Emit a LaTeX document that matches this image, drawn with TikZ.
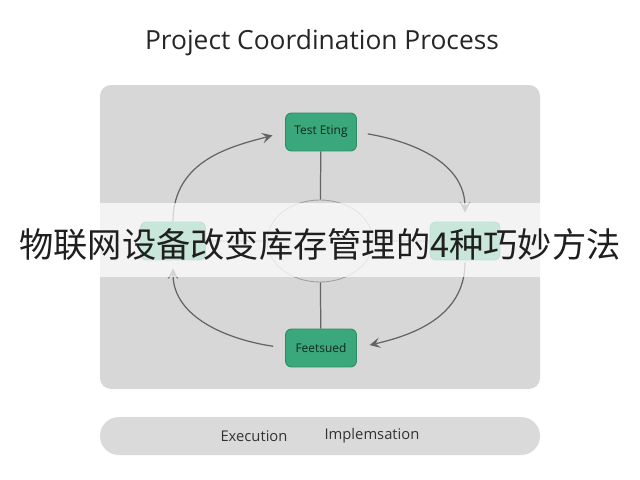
\documentclass[tikz,border=0pt]{standalone}
\usepackage{fontspec}
\setmainfont{Open Sans}
\newfontfamily\cjk{Noto Sans CJK SC}
\usetikzlibrary{arrows.meta, shapes.geometric}
\definecolor{panelbg}{RGB}{215,215,215}
\definecolor{pillbg}{RGB}{218,218,218}
\definecolor{stepgreen}{RGB}{58,168,122}
\definecolor{stepedge}{RGB}{44,140,100}
\definecolor{steptext}{RGB}{18,40,30}
\definecolor{linegray}{RGB}{100,100,100}

\begin{document}
\begin{tikzpicture}[
  x=0.02cm, y=-0.02cm,
  stepbox/.style={rectangle, rounded corners=0.12cm, minimum width=1.42cm, minimum height=0.76cm, draw=stepedge, line width=0.5pt, fill=stepgreen, text=steptext, font=\fontsize{6.8}{8}\selectfont},
  hubnode/.style={ellipse, minimum width=2.12cm, minimum height=1.64cm, draw=gray!75, line width=0.5pt, inner sep=0pt},
  cyc/.style={-{Stealth[length=6pt, width=6pt, inset=2.5pt]}, line width=0.7pt, linegray},
  link/.style={line width=0.7pt, linegray},
  lbl/.style={font=\fontsize{8.4}{10}\selectfont, text=black!80}
]
\useasboundingbox (0,0) rectangle (640,480);

% Title
\node[font=\fontsize{15}{18}\selectfont, text=black!85] (title) at (322,43) {Project Coordination Process};

% Panel and bottom bar
\fill[panelbg, rounded corners=0.22cm] (100,85) rectangle (540,389);
\fill[pillbg, rounded corners=0.38cm] (100,417) rectangle (540,455);
\node[lbl] (exec) at (254,436) {Execution};
\node[lbl] (impl) at (372,436) {Implemsation};

% Cycle nodes
\node[stepbox] (tnode) at (321,132) {Test Eting};
\node[stepbox] (bnode) at (321,348) {Feetsued};
\node[stepbox, minimum width=1.3cm] (lnode) at (173,241) {};
\node[stepbox, minimum width=1.4cm] (rnode) at (465,241) {};
\node[hubnode] (hub) at (320,241) {};

% Spokes
\draw[link] (tnode) -- (hub);
\draw[link] (hub) -- (bnode);
\draw[link, gray!60] (hub) -- (lnode);
\draw[link, gray!60] (hub) -- (rnode);

% Cycle arrows
\draw[cyc, shorten >=0.26cm] (lnode.north) .. controls +(0,-62) and +(-52,14) .. (tnode.west);
\draw[cyc, shorten <=0.22cm, shorten >=0.18cm] (tnode.east) .. controls +(58,10) and +(0,-58) .. (rnode.north);
\draw[cyc, shorten <=0.04cm, shorten >=0.26cm] (rnode.south) .. controls +(0,58) and +(52,-12) .. (bnode.east);
\draw[cyc, shorten <=0.24cm, shorten >=0.16cm] (bnode.west) .. controls +(-55,-8) and +(0,58) .. (lnode.south);

% Overlay band and heading
\fill[white, opacity=0.72] (0,203) rectangle (640,277);
\node[font=\cjk\fontsize{19.5}{23}\selectfont, text=black!88, inner sep=0pt] (head) at (320,244) {物联网设备改变库存管理的4种巧妙方法};
\end{tikzpicture}
\end{document}
